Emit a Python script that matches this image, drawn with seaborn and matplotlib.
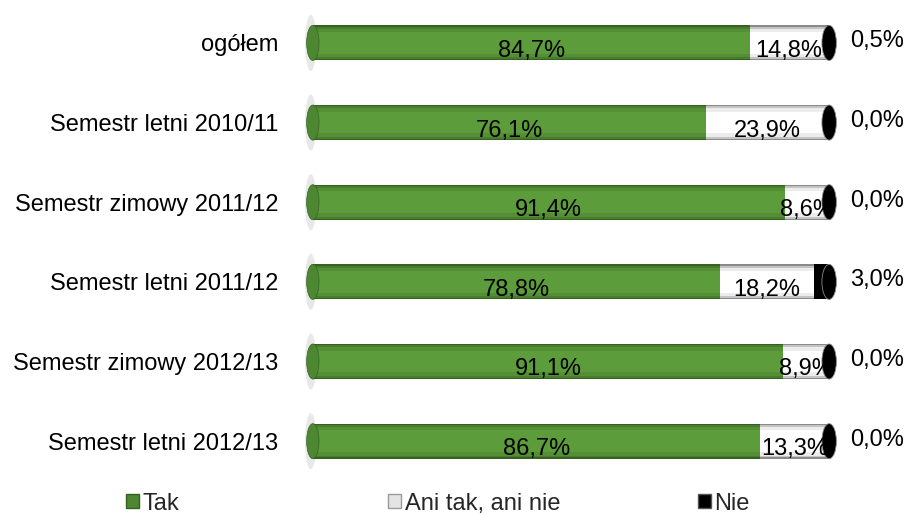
import numpy as np
import matplotlib
matplotlib.use("Agg")
import matplotlib.pyplot as plt
from matplotlib.patches import Ellipse, Patch
import pandas as pd
import seaborn as sns

# dane
kategorie = ["ogółem", "Semestr letni 2010/11", "Semestr zimowy 2011/12",
             "Semestr letni 2011/12", "Semestr zimowy 2012/13", "Semestr letni 2012/13"]
tak = [84.7, 76.1, 91.4, 78.8, 91.1, 86.7]
ani = [14.8, 23.9, 8.6, 18.2, 8.9, 13.3]
nie = [0.5, 0.0, 0.0, 3.0, 0.0, 0.0]
serie = ["Tak", "Ani tak, ani nie", "Nie"]

sns.set_theme(style="white")
plt.rcParams["font.family"] = ["Liberation Sans", "DejaVu Sans"]

df = pd.DataFrame({"kat": kategorie, "tak": tak, "ani": ani, "nie": nie})
df["c_ani"] = df["tak"] + df["ani"]
df["c_nie"] = df["c_ani"] + df["nie"]

fmt = lambda v: f"{v:.1f}%".replace(".", ",")

fig = plt.figure(figsize=(9.08, 5.15), dpi=100, facecolor="white")
ax = fig.add_axes([0.336, 0.066, 0.580, 0.928])

BW = 0.44
# warstwy walca: od krawedzi do srodka (imitacja gradientu)
warstwy = [
    ("c_nie", [(1.0, "#000000")]),
    ("c_ani", [(1.0, "#8a8a8a"), (0.93, "#c4c4c4"), (0.82, "#ececec"), (0.62, "#ffffff")]),
    ("tak", [(1.0, "#35631f"), (0.93, "#477d2c"), (0.82, "#548f35"), (0.62, "#5d9c3b")]),
]
for col, layers in warstwy:
    for f, c in layers:
        sns.barplot(data=df, x=col, y="kat", orient="h", color=c, width=BW * f,
                    saturation=1, ax=ax, linewidth=0, zorder=3)

# zaokraglone konce (walec) + cien z lewej
for i in range(len(kategorie)):
    ax.add_patch(Ellipse((-0.4, i), 2.2, BW * 1.6, facecolor="#d6d6d6",
                         edgecolor="none", alpha=0.55, zorder=1, clip_on=False))
    ax.add_patch(Ellipse((0, i), 2.4, BW, facecolor="#4d8731",
                         edgecolor="#35631f", linewidth=0.5, zorder=4, clip_on=False))
    ax.add_patch(Ellipse((df["c_nie"][i], i), 2.8, BW, facecolor="#000000",
                         edgecolor="#8a8a8a", linewidth=0.6, zorder=4, clip_on=False))

for i in range(len(kategorie)):
    ax.text(tak[i] / 2, i + 0.1, fmt(tak[i]), ha="center", va="center",
            fontsize=17, color="black", zorder=6)
    ax.text(tak[i] + ani[i] / 2, i + 0.1, fmt(ani[i]), ha="center", va="center",
            fontsize=17, color="black", zorder=6)
    ax.text(104, i - 0.02, fmt(nie[i]), ha="left", va="center",
            fontsize=17, color="black", zorder=6)

ax.set_xlim(-1.5, 100.5)
ax.set_ylim(len(kategorie) - 0.5, -0.5)
ax.set_xlabel("")
ax.set_ylabel("")
ax.set_xticks([])
ax.tick_params(axis="y", length=0, pad=19.5, labelsize=17)
for lb in ax.get_yticklabels():
    lb.set_color("black")
ax.spines[:].set_visible(False)
ax.grid(False)

# legenda - trzy osobne wpisy, jak w oryginale
uchwyty = [Patch(facecolor="#4d8731", edgecolor="#35631f"),
           Patch(facecolor="#e4e4e4", edgecolor="#9a9a9a"),
           Patch(facecolor="#000000", edgecolor="#555555")]
for h, s, x0 in zip(uchwyty, serie, [0.1388, 0.4273, 0.7687]):
    leg = fig.legend([h], [s], loc="center left", bbox_to_anchor=(x0, 0.022),
                     frameon=False, fontsize=17, handlelength=0.55, handleheight=0.55,
                     handletextpad=0.15, borderaxespad=0, borderpad=0)

plt.savefig("out.png", dpi=100, facecolor="white")
plt.close()
